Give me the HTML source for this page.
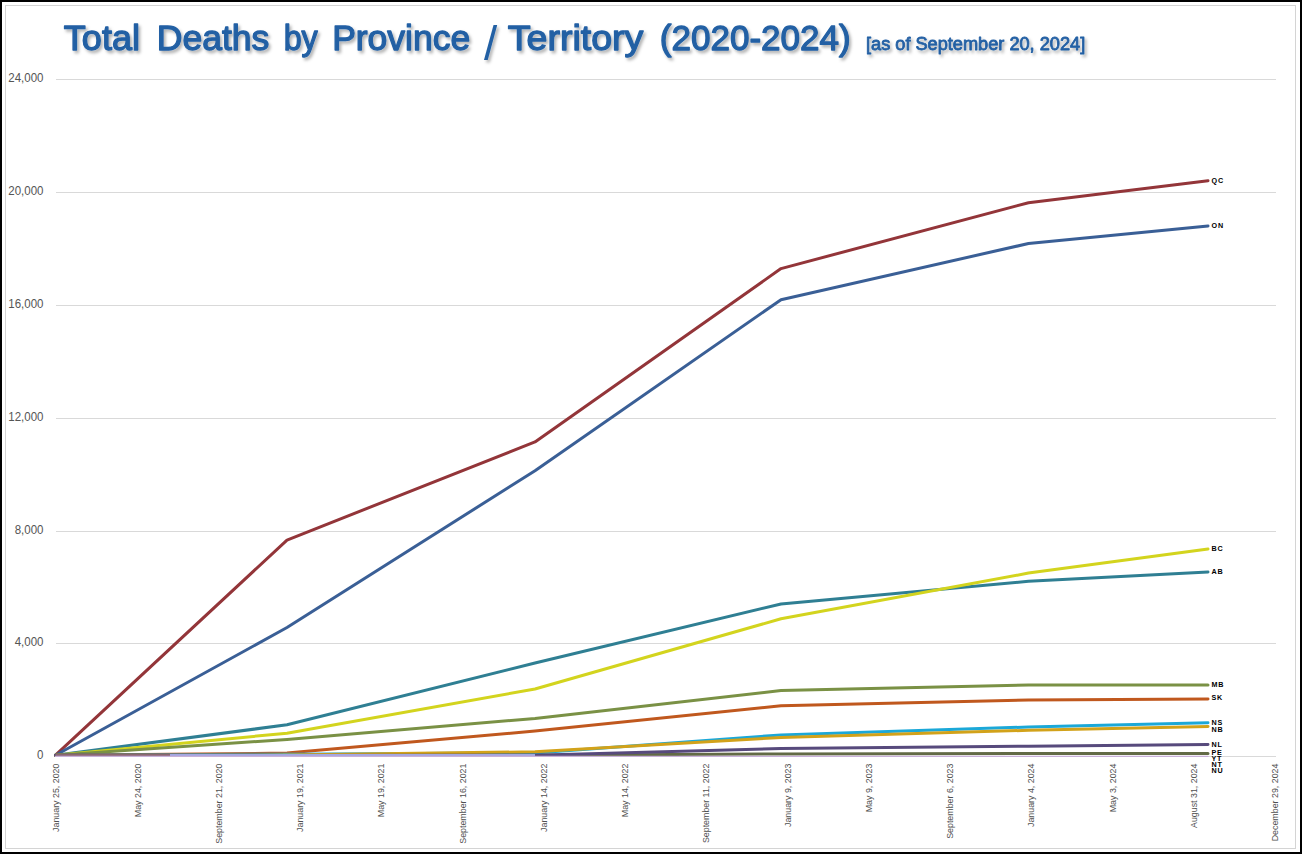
<!DOCTYPE html>
<html><head><meta charset="utf-8">
<style>
html,body{margin:0;padding:0;}
body{width:1302px;height:854px;background:#000;position:relative;overflow:hidden;font-family:"Liberation Sans",sans-serif;}
#in{position:absolute;left:2px;top:2px;width:1298px;height:850px;background:#fff;}
#frame{position:absolute;left:5px;top:5px;width:1289px;height:842px;border:1px solid #d4d4d4;}
svg{position:absolute;left:0;top:0;}
.yl{font-size:12.8px;fill:#555555;}
.xl{font-size:8.85px;fill:#505050;}
.el{font-size:7.2px;font-weight:bold;fill:#000;letter-spacing:0.8px;}
</style></head><body>
<div id="in"></div>
<div id="frame"></div>
<svg width="1302" height="854" viewBox="0 0 1302 854">
<defs><filter id="sh" x="-5%" y="-30%" width="110%" height="160%"><feDropShadow dx="2" dy="2.5" stdDeviation="1.6" flood-color="#000" flood-opacity="0.3"/></filter></defs>
<text x="37.09" y="759.4" class="yl" textLength="6.41" lengthAdjust="spacingAndGlyphs">0</text>
<line x1="56" y1="643.5" x2="1276" y2="643.5" stroke="#d9d9d9" stroke-width="1"/>
<text x="14.67" y="646.4" class="yl" textLength="28.83" lengthAdjust="spacingAndGlyphs">4,000</text>
<line x1="56" y1="531.5" x2="1276" y2="531.5" stroke="#d9d9d9" stroke-width="1"/>
<text x="14.67" y="534.4" class="yl" textLength="28.83" lengthAdjust="spacingAndGlyphs">8,000</text>
<line x1="56" y1="418.5" x2="1276" y2="418.5" stroke="#d9d9d9" stroke-width="1"/>
<text x="8.27" y="421.4" class="yl" textLength="35.23" lengthAdjust="spacingAndGlyphs">12,000</text>
<line x1="56" y1="305.5" x2="1276" y2="305.5" stroke="#d9d9d9" stroke-width="1"/>
<text x="8.27" y="308.4" class="yl" textLength="35.23" lengthAdjust="spacingAndGlyphs">16,000</text>
<line x1="56" y1="192.5" x2="1276" y2="192.5" stroke="#d9d9d9" stroke-width="1"/>
<text x="8.27" y="195.4" class="yl" textLength="35.23" lengthAdjust="spacingAndGlyphs">20,000</text>
<line x1="56" y1="79.5" x2="1276" y2="79.5" stroke="#d9d9d9" stroke-width="1"/>
<text x="8.27" y="82.4" class="yl" textLength="35.23" lengthAdjust="spacingAndGlyphs">24,000</text>
<line x1="56" y1="756.5" x2="1276" y2="756.5" stroke="#d9d9d9" stroke-width="1"/>
<text transform="translate(59.3,763.6) rotate(-90)" text-anchor="end" class="xl">January 25, 2020</text>
<text transform="translate(140.6,763.6) rotate(-90)" text-anchor="end" class="xl">May 24, 2020</text>
<text transform="translate(221.8,763.6) rotate(-90)" text-anchor="end" class="xl">September 21, 2020</text>
<text transform="translate(303.1,763.6) rotate(-90)" text-anchor="end" class="xl">January 19, 2021</text>
<text transform="translate(384.3,763.6) rotate(-90)" text-anchor="end" class="xl">May 19, 2021</text>
<text transform="translate(465.6,763.6) rotate(-90)" text-anchor="end" class="xl">September 16, 2021</text>
<text transform="translate(546.9,763.6) rotate(-90)" text-anchor="end" class="xl">January 14, 2022</text>
<text transform="translate(628.1,763.6) rotate(-90)" text-anchor="end" class="xl">May 14, 2022</text>
<text transform="translate(709.4,763.6) rotate(-90)" text-anchor="end" class="xl">September 11, 2022</text>
<text transform="translate(790.6,763.6) rotate(-90)" text-anchor="end" class="xl">January 9, 2023</text>
<text transform="translate(871.9,763.6) rotate(-90)" text-anchor="end" class="xl">May 9, 2023</text>
<text transform="translate(953.2,763.6) rotate(-90)" text-anchor="end" class="xl">September 6, 2023</text>
<text transform="translate(1034.4,763.6) rotate(-90)" text-anchor="end" class="xl">January 4, 2024</text>
<text transform="translate(1115.7,763.6) rotate(-90)" text-anchor="end" class="xl">May 3, 2024</text>
<text transform="translate(1196.9,763.6) rotate(-90)" text-anchor="end" class="xl">August 31, 2024</text>
<text transform="translate(1278.2,763.6) rotate(-90)" text-anchor="end" class="xl">December 29, 2024</text>
<polyline points="55.5,755.2 287.0,540.1 535.0,441.9 781.0,268.6 1028.5,202.7 1208.0,180.7" fill="none" stroke="#933539" stroke-width="3.0" stroke-linejoin="round" stroke-linecap="round"/>
<polyline points="55.5,755.2 287.0,627.5 535.0,470.7 781.0,299.7 1028.5,243.5 1208.0,225.9" fill="none" stroke="#3a5f96" stroke-width="3.0" stroke-linejoin="round" stroke-linecap="round"/>
<polyline points="55.5,755.2 287.0,724.8 535.0,663.0 781.0,604.0 1028.5,581.3 1208.0,572.0" fill="none" stroke="#2f7f93" stroke-width="3.0" stroke-linejoin="round" stroke-linecap="round"/>
<polyline points="55.5,755.2 287.0,733.2 535.0,689.0 781.0,618.8 1028.5,573.1 1208.0,548.9" fill="none" stroke="#d3d41e" stroke-width="3.0" stroke-linejoin="round" stroke-linecap="round"/>
<polyline points="55.5,755.2 287.0,739.5 535.0,718.5 781.0,690.5 1028.5,685.0 1208.0,684.9" fill="none" stroke="#7a9145" stroke-width="3.0" stroke-linejoin="round" stroke-linecap="round"/>
<polyline points="55.5,755.2 287.0,753.1 535.0,731.1 781.0,705.8 1028.5,700.0 1208.0,698.9" fill="none" stroke="#c0581e" stroke-width="3.0" stroke-linejoin="round" stroke-linecap="round"/>
<polyline points="55.5,755.2 287.0,754.2 535.0,753.0 781.0,734.9 1028.5,727.0 1208.0,722.8" fill="none" stroke="#1ba8d8" stroke-width="3.0" stroke-linejoin="round" stroke-linecap="round"/>
<polyline points="55.5,755.2 287.0,755.0 535.0,751.8 781.0,737.5 1028.5,730.3 1208.0,726.4" fill="none" stroke="#d2a21a" stroke-width="3.0" stroke-linejoin="round" stroke-linecap="round"/>
<polyline points="55.5,755.2 287.0,755.4 535.0,755.3 781.0,753.9 1028.5,753.5 1208.0,753.5" fill="none" stroke="#626a45" stroke-width="3.0" stroke-linejoin="round" stroke-linecap="round"/>
<polyline points="55.5,755.2 287.0,755.4 535.0,755.2 781.0,748.6 1028.5,746.2 1208.0,744.5" fill="none" stroke="#574a7c" stroke-width="3.0" stroke-linejoin="round" stroke-linecap="round"/>
<polyline points="55.5,755.2 190.0,755.0" fill="none" stroke="#8a6670" stroke-width="2.4" stroke-linejoin="round" stroke-linecap="butt"/>
<polyline points="170.0,755.2 535.0,755.2" fill="none" stroke="#a2a6e2" stroke-width="2.4" stroke-linejoin="round" stroke-linecap="butt"/>
<polyline points="55.5,756.4 287.0,756.4 535.0,756.4 781.0,756.4 1028.5,756.4 1208.0,756.4" fill="none" stroke="#c8b0d8" stroke-width="1.3" stroke-linejoin="round" stroke-linecap="round"/>
<text x="1211.5" y="183.1" class="el">QC</text>
<text x="1211.5" y="228.0" class="el">ON</text>
<text x="1211.5" y="551.1" class="el">BC</text>
<text x="1211.5" y="574.1" class="el">AB</text>
<text x="1211.5" y="687.0" class="el">MB</text>
<text x="1211.5" y="700.0" class="el">SK</text>
<text x="1211.5" y="724.8" class="el">NS</text>
<text x="1211.5" y="732.1" class="el">NB</text>
<text x="1211.5" y="747.1" class="el">NL</text>
<text x="1211.5" y="754.6" class="el">PE</text>
<text x="1211.5" y="761.2" class="el">YT</text>
<text x="1211.5" y="767.1" class="el">NT</text>
<text x="1211.5" y="772.8" class="el">NU</text>

<g filter="url(#sh)" fill="#2360a4" stroke="#2360a4" stroke-linejoin="round">
<text x="63.85" y="50.1" font-size="35" stroke-width="1.3" textLength="76.1" lengthAdjust="spacingAndGlyphs">Total</text>
<text x="156.75" y="50.1" font-size="35" stroke-width="1.3" textLength="112.6" lengthAdjust="spacingAndGlyphs">Deaths</text>
<text x="283.65" y="50.1" font-size="35" stroke-width="1.3" textLength="34.1" lengthAdjust="spacingAndGlyphs">by</text>
<text x="332.15" y="50.1" font-size="35" stroke-width="1.3" textLength="138.0" lengthAdjust="spacingAndGlyphs">Province</text>
<text x="484.05" y="59.6" font-size="48" stroke-width="0" textLength="13.2" lengthAdjust="spacingAndGlyphs">/</text>
<text x="507.85" y="50.1" font-size="35" stroke-width="1.3" textLength="135.5" lengthAdjust="spacingAndGlyphs">Territory</text>
<text x="659.85" y="50.1" font-size="35" stroke-width="1.3" textLength="190.8" lengthAdjust="spacingAndGlyphs">(2020-2024)</text>
<text x="866" y="50.4" font-size="18" stroke-width="0.8" textLength="219.2" lengthAdjust="spacingAndGlyphs">[as of September 20, 2024]</text>
</g>
</svg>
</body></html>
